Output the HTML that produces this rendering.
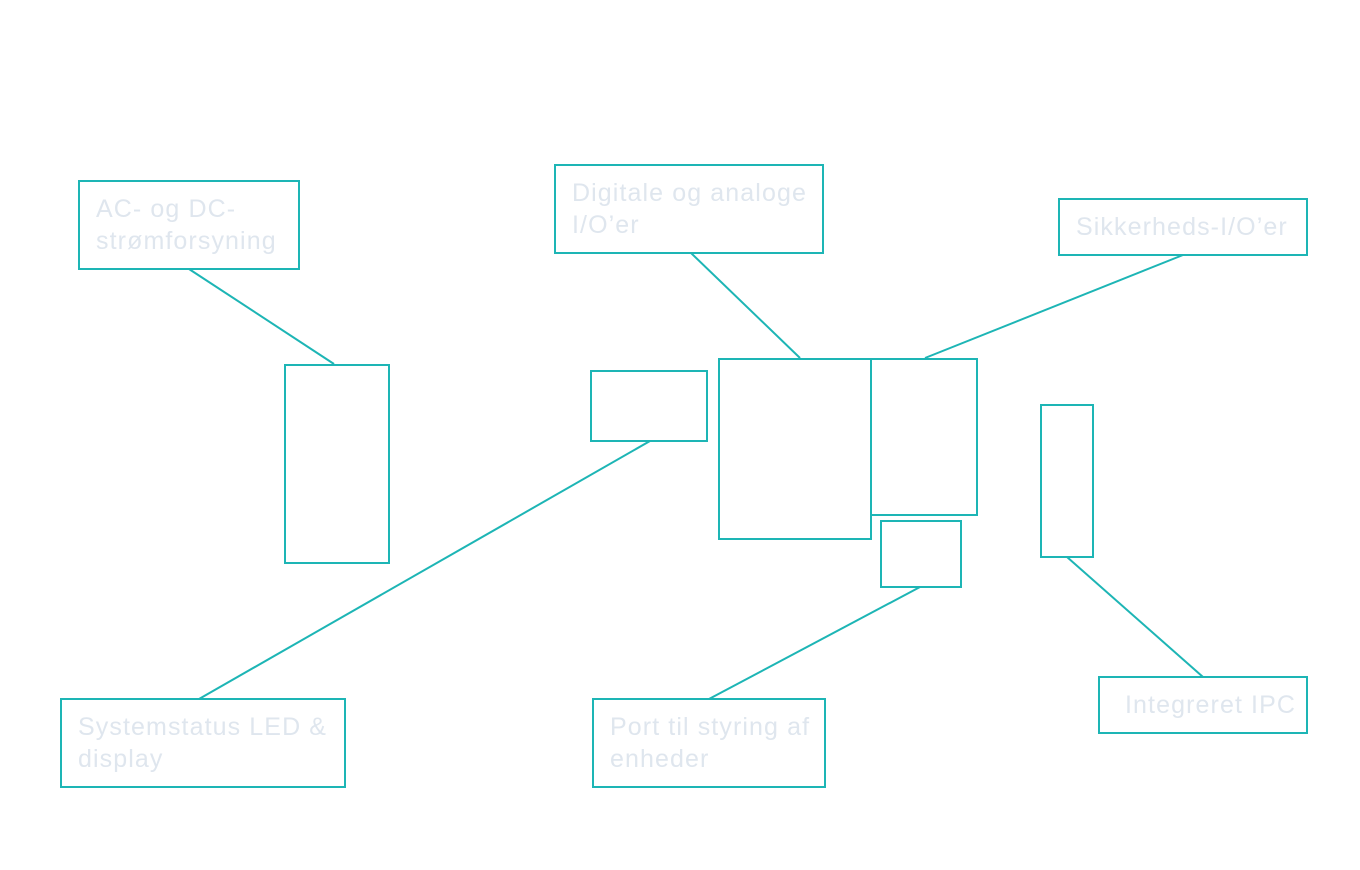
<!DOCTYPE html>
<html><head><meta charset="utf-8"><style>
html,body{margin:0;padding:0;background:#fff;width:1360px;height:870px;overflow:hidden}
svg text{font-family:"Liberation Sans",sans-serif;font-size:25px;fill:#dfe6ee;letter-spacing:1.1px}
</style></head><body>
<svg width="1360" height="870" xmlns="http://www.w3.org/2000/svg">
<g fill="none" stroke="#1db5b5" stroke-width="2">
<rect x="79" y="181" width="220" height="88"/>
<rect x="555" y="165" width="268" height="88"/>
<rect x="1059" y="199" width="248" height="56"/>
<rect x="285" y="365" width="104" height="198"/>
<rect x="591" y="371" width="116" height="70"/>
<rect x="719" y="359" width="152" height="180"/>
<rect x="871" y="359" width="106" height="156"/>
<rect x="881" y="521" width="80" height="66"/>
<rect x="1041" y="405" width="52" height="152"/>
<rect x="61" y="699" width="284" height="88"/>
<rect x="593" y="699" width="232" height="88"/>
<rect x="1099" y="677" width="208" height="56"/>
<line x1="189" y1="269" x2="334" y2="364"/>
<line x1="691" y1="253" x2="800" y2="358"/>
<line x1="1183" y1="255" x2="925" y2="358"/>
<line x1="650" y1="441" x2="199" y2="699"/>
<line x1="920" y1="587" x2="709" y2="699"/>
<line x1="1067" y1="557" x2="1203" y2="677"/>
</g>
<text x="96" y="217">AC- og DC-</text>
<text x="96" y="249">strømforsyning</text>
<text x="572" y="201">Digitale og analoge</text>
<text x="572" y="233">I/O’er</text>
<text x="1076" y="235">Sikkerheds-I/O’er</text>
<text x="78" y="735">Systemstatus LED &amp;</text>
<text x="78" y="767">display</text>
<text x="610" y="735">Port til styring af</text>
<text x="610" y="767">enheder</text>
<text x="1125" y="713">Integreret IPC</text>
</svg>
</body></html>
